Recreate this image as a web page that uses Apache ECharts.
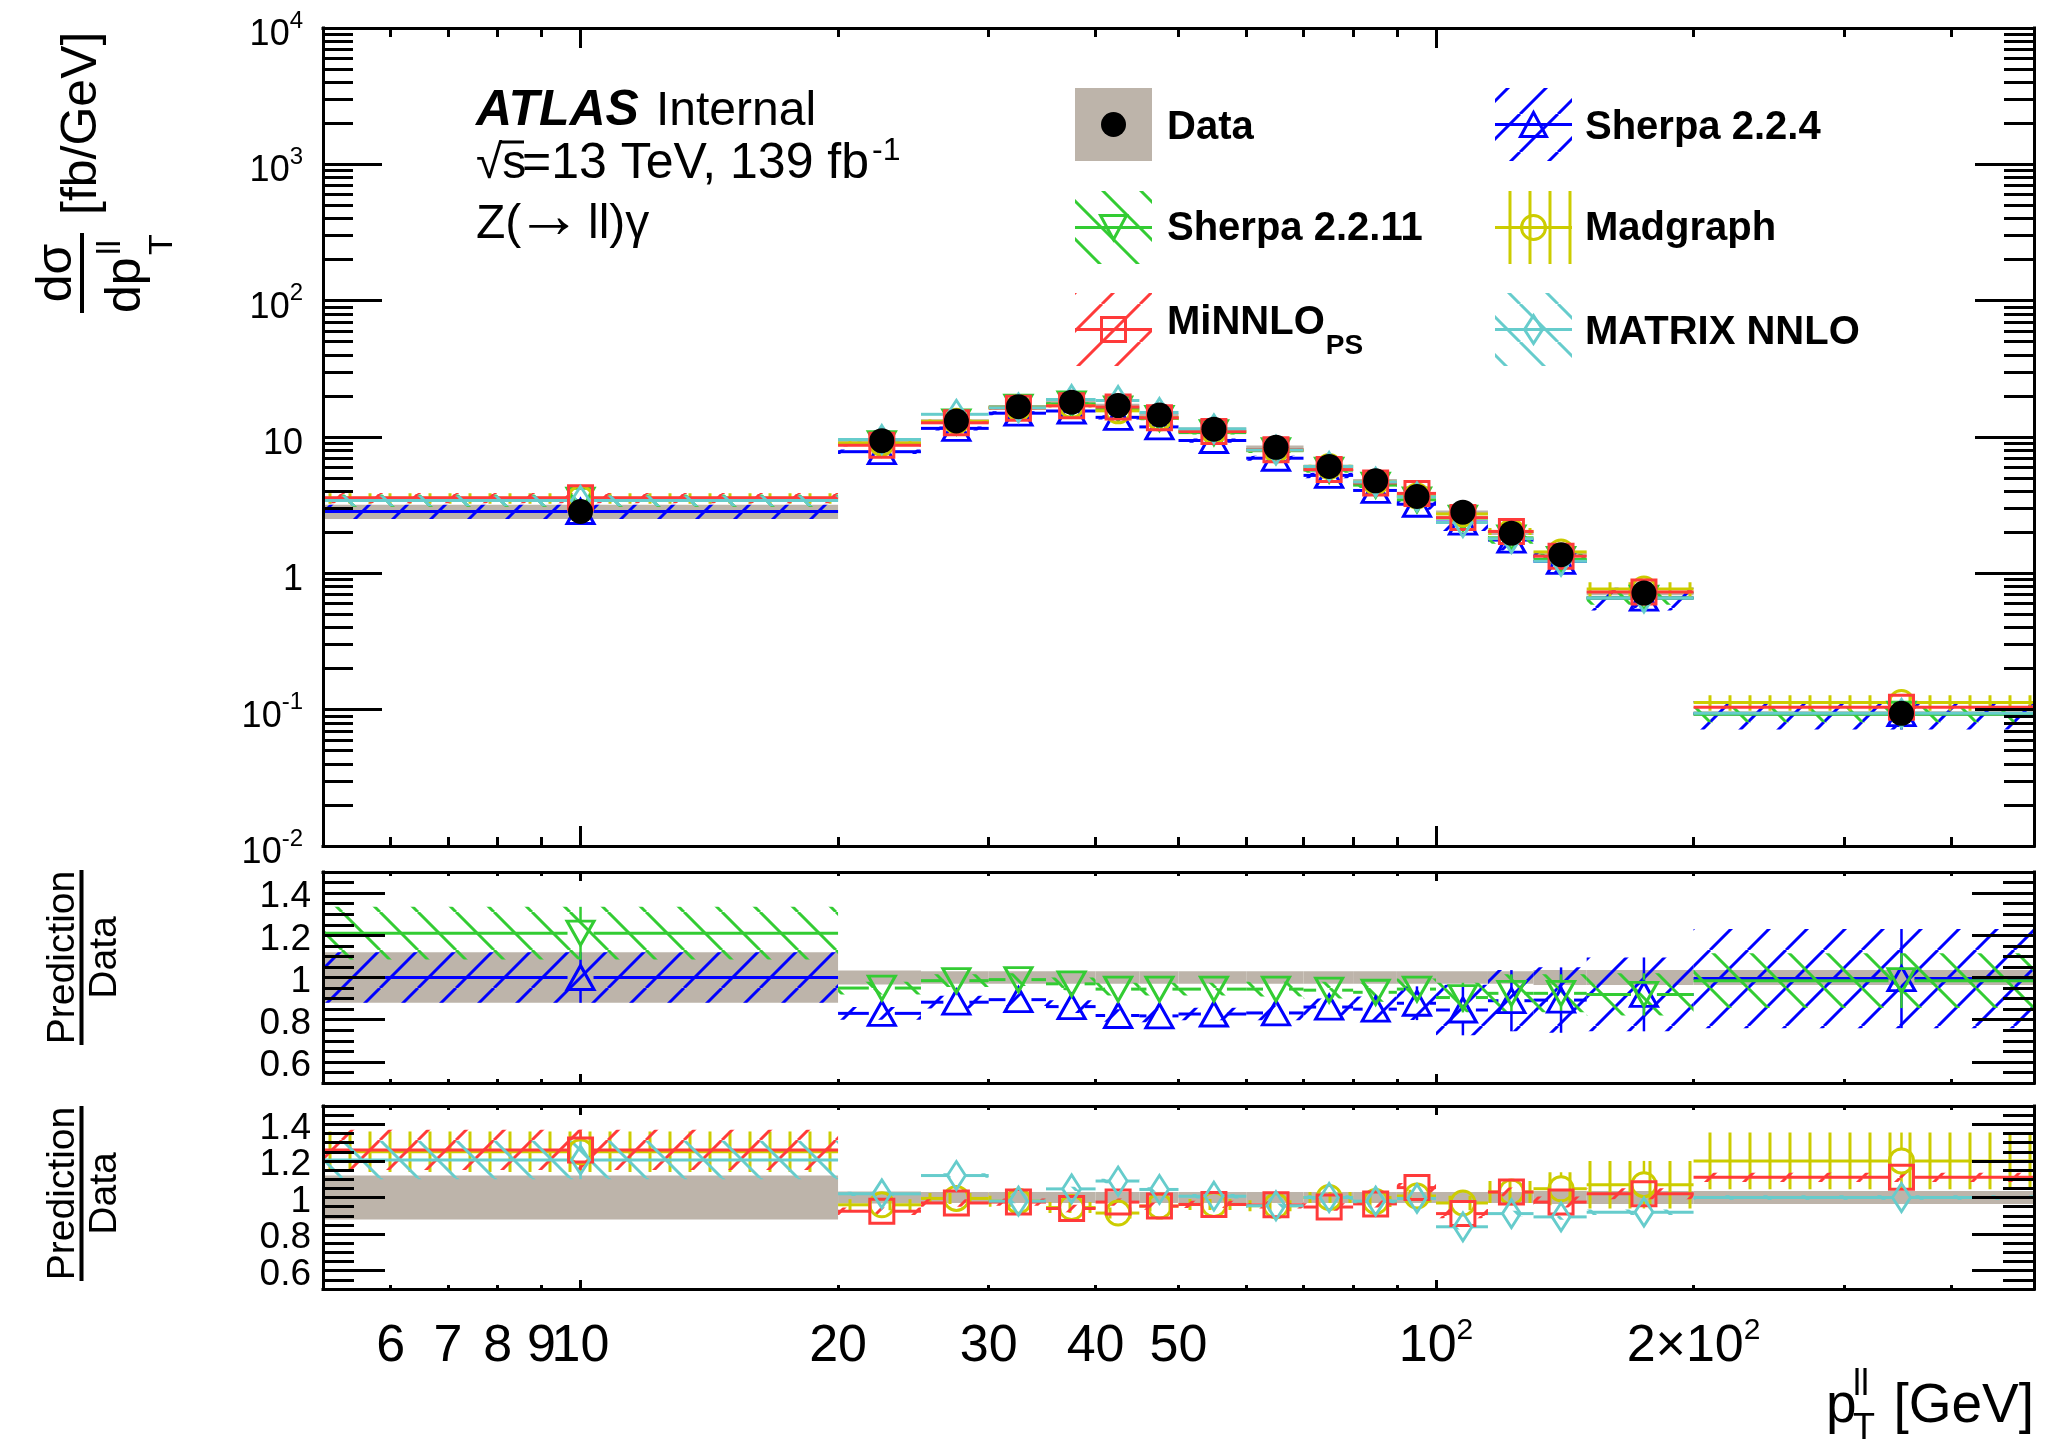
<!DOCTYPE html>
<html>
<head>
<meta charset="utf-8">
<title>ATLAS Z(ll)gamma pT(ll)</title>
<script src="https://cdn.jsdelivr.net/npm/echarts@6.0.0/dist/echarts.min.js"></script>
<style>
html, body { margin: 0; padding: 0; background: #ffffff; }
#chart { width: 2045px; height: 1441px; }
</style>
</head>
<body>
<div id="chart"></div>
<script>
// ---------------- values ----------------
const binLow     = [0, 20, 25, 30, 35, 40, 45, 50, 60, 70, 80, 90, 100, 115, 130, 150, 200];
const binHigh    = [20, 25, 30, 35, 40, 45, 50, 60, 70, 80, 90, 100, 115, 130, 150, 200, 500];
const binCenters = [10, 22.5, 27.5, 32.5, 37.5, 42.5, 47.5, 55, 65, 75, 85, 95, 107.5, 122.5, 140, 175, 350];

const dataXsec   = [2.84, 9.4, 13.1, 16.7, 18.0, 17.0, 14.5, 11.4, 8.4, 6.08, 4.77, 3.66, 2.81, 1.97, 1.37, 0.716, 0.094];
const dataRelUnc = [0.12, 0.033, 0.03, 0.03, 0.03, 0.03, 0.03, 0.03, 0.03, 0.03, 0.03, 0.03, 0.03, 0.03, 0.035, 0.035, 0.035];

const sherpa224Ratio  = [1.0, 0.83, 0.883, 0.895, 0.862, 0.82, 0.818, 0.827, 0.832, 0.86, 0.85, 0.878, 0.846, 0.89, 0.893, 0.92, 0.995];
const sherpa224Unc    = [0.12, 0.03, 0.03, 0.03, 0.03, 0.03, 0.03, 0.03, 0.035, 0.04, 0.06, 0.08, 0.12, 0.145, 0.155, 0.175, 0.235];

const sherpa2211Ratio = [1.21, 0.95, 0.985, 0.99, 0.97, 0.945, 0.945, 0.945, 0.945, 0.94, 0.93, 0.945, 0.905, 0.925, 0.925, 0.92, 0.985];
const sherpa2211Unc   = [0.125, 0.03, 0.03, 0.03, 0.03, 0.03, 0.03, 0.03, 0.035, 0.04, 0.045, 0.05, 0.07, 0.09, 0.09, 0.1, 0.13];

const madgraphRatio   = [1.25, 0.96, 0.995, 0.98, 0.945, 0.915, 0.953, 0.962, 0.955, 1.0, 0.978, 1.008, 0.97, 1.03, 1.048, 1.07, 1.2];
const madgraphUnc     = [0.11, 0.03, 0.03, 0.03, 0.03, 0.03, 0.03, 0.03, 0.03, 0.03, 0.03, 0.035, 0.04, 0.06, 0.09, 0.13, 0.155];

const minnloRatio     = [1.26, 0.925, 0.97, 0.975, 0.94, 0.975, 0.953, 0.962, 0.96, 0.948, 0.965, 1.054, 0.912, 1.03, 0.975, 1.02, 1.11];
const minnloUnc       = [0.11, 0.02, 0.02, 0.02, 0.02, 0.02, 0.02, 0.02, 0.02, 0.02, 0.02, 0.025, 0.025, 0.025, 0.03, 0.03, 0.025];

const matrixRatio     = [1.205, 1.02, 1.12, 0.98, 1.047, 1.09, 1.044, 1.007, 0.955, 1.0, 0.98, 0.995, 0.84, 0.912, 0.894, 0.92, 1.0];
const matrixUnc       = [0.105, 0.012, 0.012, 0.012, 0.012, 0.012, 0.012, 0.012, 0.012, 0.012, 0.012, 0.012, 0.015, 0.015, 0.015, 0.015, 0.012];

// axis ticks and labels
const xMajorTicks   = [10, 100];
const xMinorTicks   = [6, 7, 8, 9, 20, 30, 40, 50, 60, 70, 80, 90, 200, 300, 400];
const xLabelValues  = [6, 7, 8, 9, 10, 20, 30, 40, 50, 100, 200];
const xLabelBase    = ['6', '7', '8', '9', '10', '20', '30', '40', '50', '10', '2\u00d710'];
const xLabelSup     = ['', '', '', '', '', '', '', '', '', '2', '2'];
const yMainMajor    = [0.01, 0.1, 1, 10, 100, 1000, 10000];
const yMainBase     = ['10', '10', '1', '10', '10', '10', '10'];
const yMainSup      = ['-2', '-1', '', '', '2', '3', '4'];
const ratioMajor    = [0.6, 0.8, 1, 1.2, 1.4];
const ratioLabels   = ['0.6', '0.8', '1', '1.2', '1.4'];
const ratioMinor    = [0.55, 0.65, 0.7, 0.75, 0.85, 0.9, 0.95, 1.05, 1.1, 1.15, 1.25, 1.3, 1.35, 1.45];

// ---------------- styling ----------------
const FONT = '"Liberation Sans", Arial, Helvetica, sans-serif';
const X_MIN = 5, X_MAX = 500;
const C_BAND = '#bdb4aa', C_BLUE = '#0000ff', C_GREEN = '#33cc33', C_YELLOW = '#cccc00', C_RED = '#ff3a3a', C_CYAN = '#66cccc';
const L = Math.log10;

function hatch(type, color) {
  const s = type === 'vert' ? 20 : 38;
  const cv = document.createElement('canvas');
  cv.width = s; cv.height = s;
  const ctx = cv.getContext('2d');
  ctx.strokeStyle = color; ctx.lineWidth = 3;
  ctx.beginPath();
  if (type === 'fwd') { for (let k = -1; k <= 1; k++) { ctx.moveTo(k * s, s); ctx.lineTo(k * s + s, 0); } }
  else if (type === 'back') { for (let k = -1; k <= 1; k++) { ctx.moveTo(k * s, 0); ctx.lineTo(k * s + s, s); } }
  else { ctx.moveTo(s / 2, 0); ctx.lineTo(s / 2, s); }
  ctx.stroke();
  return { image: cv, repeat: 'repeat' };
}

const models = [
  { name: 'Sherpa 2.2.4',  ratio: sherpa224Ratio,  unc: sherpa224Unc,  color: C_BLUE,   hatch: 'fwd',  symbol: 'triangle', size: [27, 24], rotate: 0,   half: [13, 12], panel: 1 },
  { name: 'Sherpa 2.2.11', ratio: sherpa2211Ratio, unc: sherpa2211Unc, color: C_GREEN,  hatch: 'back', symbol: 'triangle', size: [27, 24], rotate: 180, half: [13, 12], panel: 1 },
  { name: 'Madgraph',      ratio: madgraphRatio,   unc: madgraphUnc,   color: C_YELLOW, hatch: 'vert', symbol: 'circle',   size: 24,       rotate: 0,   half: [12, 12], panel: 2 },
  { name: 'MiNNLO',        ratio: minnloRatio,     unc: minnloUnc,     color: C_RED,    hatch: 'fwd',  symbol: 'rect',     size: 24,       rotate: 0,   half: [12, 12], panel: 2 },
  { name: 'MATRIX NNLO',   ratio: matrixRatio,     unc: matrixUnc,     color: C_CYAN,   hatch: 'back', symbol: 'diamond',  size: [18, 28], rotate: 0,   half: [9, 14],  panel: 2 }
];
models.forEach(m => { m.pattern = hatch(m.hatch, m.color); });

// ---------------- grids & axes ----------------
const grids = [
  { left: 323, top: 28, width: 1711, height: 818 },
  { left: 323, top: 872, width: 1711, height: 211 },
  { left: 323, top: 1106, width: 1711, height: 183 }
];
grids.forEach(g => { g.outerBoundsMode = 'none'; g.containLabel = false; });

const xAxes = [], yAxes = [];
for (let g = 0; g < 3; g++) xAxes.push({ type: 'log', logBase: 10, gridIndex: g, min: X_MIN, max: X_MAX, show: false });
yAxes.push({ type: 'log', logBase: 10, gridIndex: 0, min: 0.01, max: 10000, show: false });
yAxes.push({ type: 'value', gridIndex: 1, min: 0.5, max: 1.5, show: false });
yAxes.push({ type: 'value', gridIndex: 2, min: 0.5, max: 1.5, show: false });

function tickAxis(grid, pos, min, max, ticks, len, extra) {
  extra = extra || {};
  return {
    type: 'value', gridIndex: grid, position: pos, min: min, max: max, z: 20, silent: true,
    axisLine: { show: !!extra.line, onZero: false, lineStyle: { color: '#000', width: 3, cap: 'square' } },
    axisTick: { show: ticks.length > 0, inside: true, length: len, customValues: ticks.length ? ticks : undefined, lineStyle: { color: '#000', width: 3 } },
    axisLabel: extra.label || { show: false },
    splitLine: { show: false }, minorTick: { show: false }, minorSplitLine: { show: false }, axisPointer: { show: false }
  };
}

const LX0 = L(X_MIN), LX1 = L(X_MAX);
const xMaj = xMajorTicks.map(L), xMin = xMinorTicks.map(L);
const tickLen = [[20, 9], [9, 4], [9, 4]];
for (let g = 0; g < 3; g++) {
  xAxes.push(tickAxis(g, 'bottom', LX0, LX1, xMaj, tickLen[g][0], { line: true }));
  xAxes.push(tickAxis(g, 'bottom', LX0, LX1, xMin, tickLen[g][1]));
  xAxes.push(tickAxis(g, 'top', LX0, LX1, xMaj, tickLen[g][0], { line: true }));
  xAxes.push(tickAxis(g, 'top', LX0, LX1, xMin, tickLen[g][1]));
}
// x tick labels under the lowest panel
xAxes.push(tickAxis(2, 'bottom', LX0, LX1, [], 0, {
  label: {
    show: true, customValues: xLabelValues.map(L), margin: 32, hideOverlap: false, showMinLabel: true, showMaxLabel: true, color: '#000',
    formatter: function (v) {
      for (let j = 0; j < xLabelValues.length; j++) {
        if (Math.abs(L(xLabelValues[j]) - v) < 1e-6) return '{b|' + xLabelBase[j] + '}' + (xLabelSup[j] ? '{s|' + xLabelSup[j] + '}' : '');
      }
      return '';
    },
    rich: {
      b: { fontSize: 52, lineHeight: 52, padding: [5, 0, 0, 0], fontFamily: FONT, color: '#000', verticalAlign: 'bottom' },
      s: { fontSize: 30, lineHeight: 30, padding: [0, 0, 27, 0], fontFamily: FONT, color: '#000', verticalAlign: 'bottom' }
    }
  }
}));

// main panel y ticks (log space)
const yMajLog = yMainMajor.map(L);
const yMinLog = [];
for (let e = -2; e < 4; e++) for (let k = 2; k <= 9; k++) yMinLog.push(e + L(k));
yAxes.push(tickAxis(0, 'left', -2, 4, yMajLog, 59, {
  line: true,
  label: {
    show: true, customValues: yMajLog, margin: 20, padding: [14, 0, 0, 0], hideOverlap: false, showMinLabel: true, showMaxLabel: true, color: '#000',
    formatter: function (v) {
      for (let j = 0; j < yMajLog.length; j++) {
        if (Math.abs(yMajLog[j] - v) < 1e-6) return yMainSup[j] ? '{b|' + yMainBase[j] + '}{s|' + yMainSup[j] + '}' : '{p|' + yMainBase[j] + '}';
      }
      return '';
    },
    rich: {
      p: { fontSize: 36, lineHeight: 36, fontFamily: FONT, color: '#000', verticalAlign: 'bottom' },
      b: { fontSize: 36, lineHeight: 36, padding: [31, 0, 0, 0], fontFamily: FONT, color: '#000', verticalAlign: 'bottom' },
      s: { fontSize: 24, lineHeight: 24, padding: [0, 0, 20, 0], fontFamily: FONT, color: '#000', verticalAlign: 'bottom' }
    }
  }
}));
yAxes.push(tickAxis(0, 'left', -2, 4, yMinLog, 30));
yAxes.push(tickAxis(0, 'right', -2, 4, yMajLog, 59, { line: true }));
yAxes.push(tickAxis(0, 'right', -2, 4, yMinLog, 30));

// ratio panels y ticks; labels split over two axes so none is dropped as "overlapping"
function ratioLabelAxis(g, values) {
  return tickAxis(g, 'left', 0.5, 1.5, [], 0, {
    label: {
      show: true, customValues: values, margin: 12, hideOverlap: false, showMinLabel: true, showMaxLabel: true,
      color: '#000', fontSize: 37, fontFamily: FONT, lineHeight: 8, verticalAlign: 'top',
      formatter: function (v) {
        for (let j = 0; j < ratioMajor.length; j++) if (Math.abs(ratioMajor[j] - v) < 1e-6) return ratioLabels[j];
        return '';
      }
    }
  });
}
for (let g = 1; g < 3; g++) {
  yAxes.push(tickAxis(g, 'left', 0.5, 1.5, ratioMajor, 62, { line: true }));
  yAxes.push(tickAxis(g, 'left', 0.5, 1.5, ratioMinor, 31));
  yAxes.push(tickAxis(g, 'right', 0.5, 1.5, ratioMajor, 62, { line: true }));
  yAxes.push(tickAxis(g, 'right', 0.5, 1.5, ratioMinor, 31));
  yAxes.push(ratioLabelAxis(g, ratioMajor.filter((v, j) => j % 2 === 0)));
  yAxes.push(ratioLabelAxis(g, ratioMajor.filter((v, j) => j % 2 === 1)));
}

// ---------------- series ----------------
function bandRender(fill) {
  return function (params, api) {
    const lo = Math.max(api.value(0), X_MIN), hi = api.value(1);
    const a = api.coord([lo, api.value(5)]), b = api.coord([hi, api.value(4)]);
    return { type: 'rect', shape: { x: a[0], y: a[1], width: b[0] - a[0], height: b[1] - a[1] }, style: { fill: fill } };
  };
}
function modelRender(m) {
  return function (params, api) {
    const lo = Math.max(api.value(0), X_MIN), hi = api.value(1), c = api.value(2);
    const v = api.value(3), vlo = api.value(4), vhi = api.value(5);
    const a = api.coord([lo, v]), b = api.coord([hi, v]), p = api.coord([c, v]);
    const t = api.coord([c, vhi]), d = api.coord([c, vlo]);
    const hx = m.half[0], hy = m.half[1];
    const ch = [{ type: 'rect', shape: { x: a[0], y: t[1], width: b[0] - a[0], height: d[1] - t[1] }, style: { fill: m.pattern } }];
    const ls = { stroke: m.color, lineWidth: 3 };
    if (p[0] - hx > a[0]) ch.push({ type: 'line', shape: { x1: a[0], y1: p[1], x2: p[0] - hx, y2: p[1] }, style: ls });
    if (b[0] > p[0] + hx) ch.push({ type: 'line', shape: { x1: p[0] + hx, y1: p[1], x2: b[0], y2: p[1] }, style: ls });
    if (p[1] - hy > t[1]) ch.push({ type: 'line', shape: { x1: p[0], y1: t[1], x2: p[0], y2: p[1] - hy }, style: { stroke: m.color, lineWidth: 2.5 } });
    if (d[1] > p[1] + hy) ch.push({ type: 'line', shape: { x1: p[0], y1: p[1] + hy, x2: p[0], y2: d[1] }, style: { stroke: m.color, lineWidth: 2.5 } });
    return { type: 'group', children: ch };
  };
}

const series = [];
function addBand(g, items, fill) {
  series.push({ type: 'custom', coordinateSystem: 'cartesian2d', xAxisIndex: g, yAxisIndex: g, clip: true, silent: true, z: 2,
    encode: { x: 2, y: 3 }, renderItem: bandRender(fill), data: items });
}
function addModel(g, items, m) {
  series.push({ type: 'custom', name: m.name, coordinateSystem: 'cartesian2d', xAxisIndex: g, yAxisIndex: g, clip: true, silent: true, z: 3,
    encode: { x: 2, y: 3 }, renderItem: modelRender(m), data: items });
  series.push({ type: 'scatter', name: m.name, xAxisIndex: g, yAxisIndex: g, silent: true, z: 4,
    symbol: m.symbol, symbolSize: m.size, symbolRotate: m.rotate, emphasis: { disabled: true },
    itemStyle: { color: 'rgba(0,0,0,0)', borderColor: m.color, borderWidth: 3, opacity: 1 },
    data: items.map(it => [it[2], it[3]]) });
}

// main panel
addBand(0, binCenters.map((c, i) => [binLow[i], binHigh[i], c, dataXsec[i], dataXsec[i] * (1 - dataRelUnc[i]), dataXsec[i] * (1 + dataRelUnc[i])]), C_BAND);
models.forEach(m => addModel(0, binCenters.map((c, i) => [binLow[i], binHigh[i], c, dataXsec[i] * m.ratio[i], dataXsec[i] * (m.ratio[i] - m.unc[i]), dataXsec[i] * (m.ratio[i] + m.unc[i])]), m));
series.push({ type: 'scatter', name: 'Data', xAxisIndex: 0, yAxisIndex: 0, silent: true, z: 6, symbol: 'circle', symbolSize: 25,
  emphasis: { disabled: true }, itemStyle: { color: '#000', opacity: 1 }, data: binCenters.map((c, i) => [c, dataXsec[i]]) });

// ratio panels
for (let g = 1; g < 3; g++) {
  addBand(g, binCenters.map((c, i) => [binLow[i], binHigh[i], c, 1, 1 - dataRelUnc[i], 1 + dataRelUnc[i]]), C_BAND);
  models.filter(m => m.panel === g).forEach(m =>
    addModel(g, binCenters.map((c, i) => [binLow[i], binHigh[i], c, m.ratio[i], m.ratio[i] - m.unc[i], m.ratio[i] + m.unc[i]]), m));
}

// ---------------- text & legend graphics ----------------
const measureCtx = document.createElement('canvas').getContext('2d');
function fontStr(size, o) { o = o || {}; return (o.italic ? 'italic ' : '') + (o.bold ? 'bold ' : '') + size + 'px ' + FONT; }
function textWidth(str, size, o) { measureCtx.font = fontStr(size, o); return measureCtx.measureText(str).width; }
function T(x, base, str, size, o) {
  o = o || {};
  const al = o.align || 'left';
  return { type: 'text', x: x, y: base - 0.29 * size, silent: true, z: 100,
    style: { text: str, font: fontStr(size, o), fill: '#000', align: al, textAlign: al, verticalAlign: 'middle', textVerticalAlign: 'middle' } };
}
function bar(x1, y1, x2, y2, w) {
  return { type: 'line', silent: true, z: 100, shape: { x1: x1, y1: y1, x2: x2, y2: y2 }, style: { stroke: '#000', lineWidth: w } };
}

const graphics = [];
graphics.push(T(476, 126, 'ATLAS', 50, { bold: true, italic: true }));
graphics.push(T(656, 126, 'Internal', 48));
graphics.push(T(476, 179, '\u221As', 48));
graphics.push(bar(500, 142, 524, 142, 3));
const line2 = '=13 TeV, 139 fb';
graphics.push(T(522, 179, line2, 50));
graphics.push(T(522 + textWidth(line2, 50) + 3, 160, '-1', 32));
graphics.push(T(476, 239, 'Z(', 48));
graphics.push(T(516, 238, '\u2192', 66));
graphics.push(T(588, 239, 'll)\u03b3', 48));

// y-axis title of main panel (rotated)
graphics.push({ type: 'group', x: 0, y: 313, rotation: Math.PI / 2, silent: true, z: 100, children: [
  T(40, 72, 'd\u03c3', 50, { align: 'center' }),
  bar(0, 82, 80, 82, 4),
  T(0, 141, 'dp', 50),
  T(58, 120, 'll', 34),
  T(58, 172, 'T', 34),
  T(98, 97, '[fb/GeV]', 50)
] });
// ratio titles
[1045, 1281].forEach(y0 => {
  graphics.push({ type: 'group', x: 0, y: y0, rotation: Math.PI / 2, silent: true, z: 100, children: [
    T(87.5, 75, 'Prediction', 39, { align: 'center' }),
    bar(0, 81.5, 175, 81.5, 4),
    T(87.5, 117, 'Data', 39, { align: 'center' })
  ] });
});
// x-axis title
graphics.push(T(1826, 1423, 'p', 55));
graphics.push(T(1853, 1396, 'll', 36));
graphics.push(T(1853, 1440, 'T', 36));
graphics.push(T(2034, 1423, '[GeV]', 55, { align: 'right' }));

// legend
const legBoxX = [1075, 1495], legTextX = [1167, 1585];
const legBoxY = [88, 191, 293], legBase = [140, 241, 345];
const BW = 77, BH = 73;
function markerShape(m, cx, cy) {
  const st = { fill: 'none', stroke: m.color, lineWidth: 3 };
  if (m.symbol === 'triangle') {
    const s = m.rotate ? -1 : 1;
    return { type: 'polygon', shape: { points: [[cx - 13, cy + 12 * s], [cx + 13, cy + 12 * s], [cx, cy - 12 * s]] }, style: st };
  }
  if (m.symbol === 'circle') return { type: 'circle', shape: { cx: cx, cy: cy, r: 12 }, style: st };
  if (m.symbol === 'rect') return { type: 'rect', shape: { x: cx - 12, y: cy - 12, width: 24, height: 24 }, style: st };
  return { type: 'polygon', shape: { points: [[cx, cy - 14], [cx + 9, cy], [cx, cy + 14], [cx - 9, cy]] }, style: st };
}
function legendModel(col, row, m, label) {
  const x0 = legBoxX[col], y0 = legBoxY[row], cx = x0 + BW / 2, cy = y0 + BH / 2;
  graphics.push({ type: 'group', silent: true, z: 100, children: [
    { type: 'rect', shape: { x: x0, y: y0, width: BW, height: BH }, style: { fill: m.pattern } },
    { type: 'line', shape: { x1: x0, y1: cy, x2: x0 + BW, y2: cy }, style: { stroke: m.color, lineWidth: 3 } },
    markerShape(m, cx, cy)
  ] });
  if (label) graphics.push(T(legTextX[col], legBase[row], label, 40, { bold: true }));
}
graphics.push({ type: 'group', silent: true, z: 100, children: [
  { type: 'rect', shape: { x: legBoxX[0], y: legBoxY[0], width: BW, height: BH }, style: { fill: C_BAND } },
  { type: 'circle', shape: { cx: legBoxX[0] + BW / 2, cy: legBoxY[0] + BH / 2, r: 12.5 }, style: { fill: '#000' } }
] });
graphics.push(T(legTextX[0], legBase[0], 'Data', 40, { bold: true }));
legendModel(1, 0, models[0], 'Sherpa 2.2.4');
legendModel(0, 1, models[1], 'Sherpa 2.2.11');
legendModel(1, 1, models[2], 'Madgraph');
legendModel(0, 2, models[3], null);
graphics.push(T(legTextX[0], 335, 'MiNNLO', 40, { bold: true }));
graphics.push(T(legTextX[0] + textWidth('MiNNLO', 40, { bold: true }) + 1, 354, 'PS', 28, { bold: true }));
legendModel(1, 2, models[4], 'MATRIX NNLO');

// ---------------- chart ----------------
const chart = echarts.init(document.getElementById('chart'), null, { renderer: 'canvas', width: 2045, height: 1441 });
chart.setOption({
  backgroundColor: '#ffffff',
  animation: false,
  textStyle: { fontFamily: FONT },
  grid: grids,
  xAxis: xAxes,
  yAxis: yAxes,
  series: series,
  graphic: { elements: graphics }
});
</script>
</body>
</html>
